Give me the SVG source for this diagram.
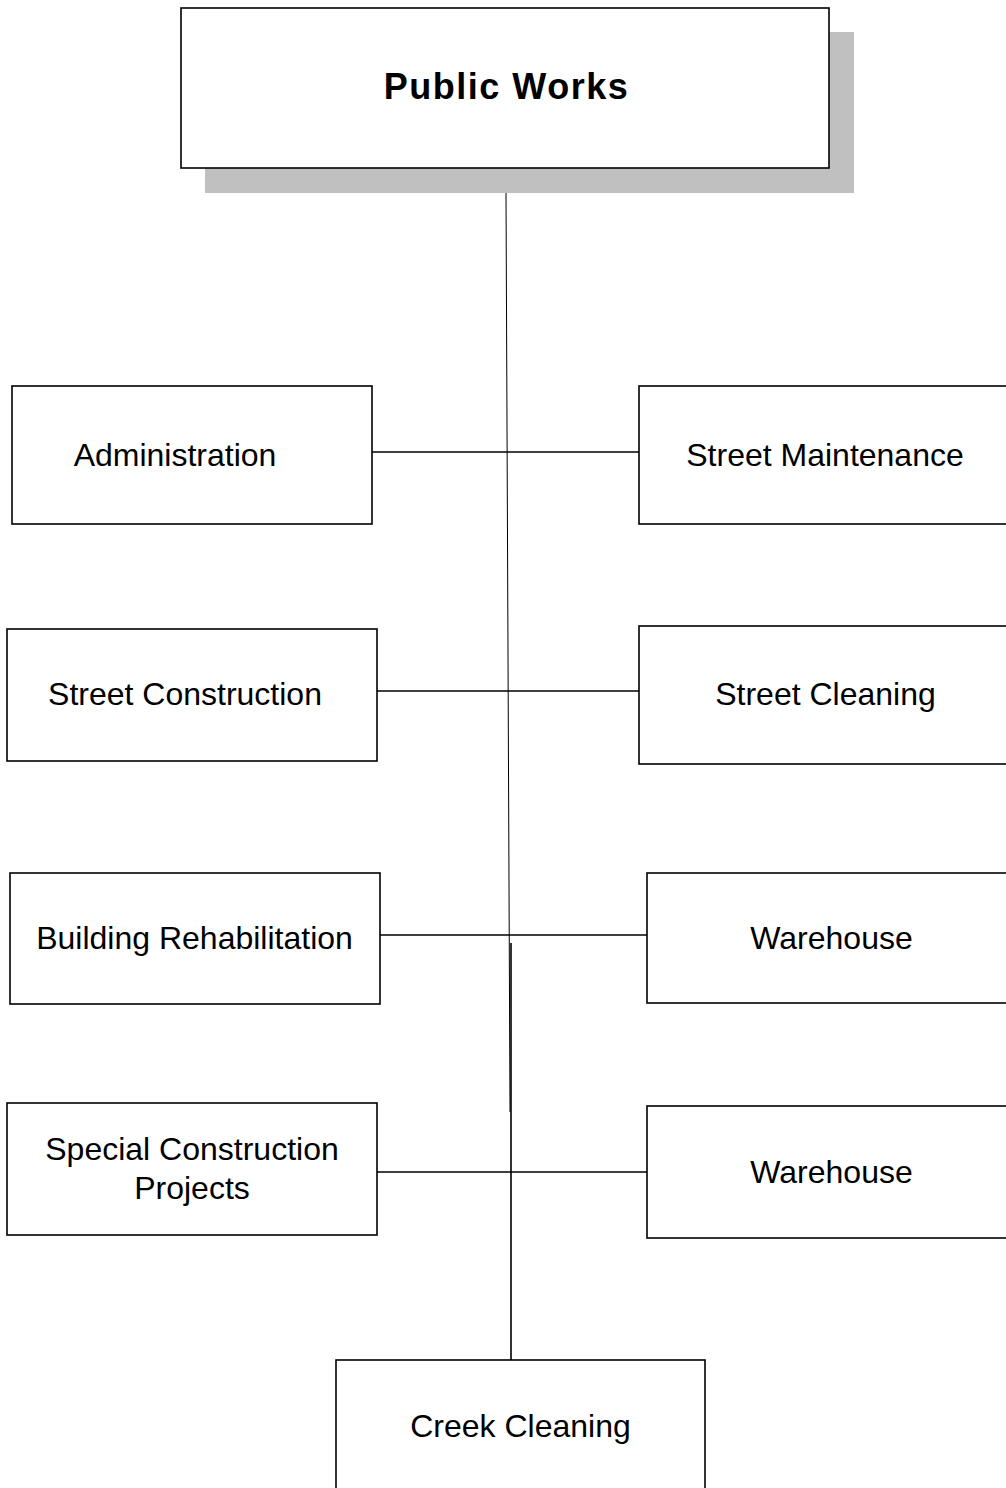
<svg xmlns="http://www.w3.org/2000/svg" width="1006" height="1488" viewBox="0 0 1006 1488">
<style>
.box{fill:#fff;stroke:#000;stroke-width:1.6}
.t{font-family:"Liberation Sans",Arial,sans-serif;font-size:32px;fill:#000;text-anchor:middle}
.h{font-family:"Liberation Sans",Arial,sans-serif;font-size:36px;font-weight:bold;letter-spacing:1.5px;fill:#000;text-anchor:middle}
.c{stroke:#000;stroke-width:1.6;fill:none}
.thin{stroke:#000;stroke-width:1;fill:none}
</style>
<rect width="1006" height="1488" fill="#fff"/>
<g id="connectors">
<line class="thin" x1="506" y1="193" x2="510" y2="1112"/>
<line class="c" x1="511" y1="943" x2="511" y2="1360"/>
<line class="c" x1="372" y1="452" x2="639" y2="452"/>
<line class="c" x1="377" y1="691" x2="645" y2="691"/>
<line class="c" x1="380" y1="935" x2="647" y2="935"/>
<line class="c" x1="377" y1="1172" x2="647" y2="1172"/>
</g>
<g id="public-works">
<rect x="205" y="32" width="649" height="161" fill="#c0c0c0"/>
<rect class="box" x="181" y="8" width="648" height="160"/>
<text class="h" x="506.5" y="99">Public Works</text>
</g>
<g id="administration">
<rect class="box" x="12" y="386" width="360" height="138"/>
<text class="t" x="175" y="466">Administration</text>
</g>
<g id="street-maintenance">
<rect class="box" x="639" y="386" width="380" height="138"/>
<text class="t" x="825" y="466">Street Maintenance</text>
</g>
<g id="street-construction">
<rect class="box" x="7" y="629" width="370" height="132"/>
<text class="t" x="185" y="705">Street Construction</text>
</g>
<g id="street-cleaning">
<rect class="box" x="639" y="626" width="380" height="138"/>
<text class="t" x="825.5" y="705">Street Cleaning</text>
</g>
<g id="building-rehabilitation">
<rect class="box" x="10" y="873" width="370" height="131"/>
<text class="t" x="194.5" y="949">Building Rehabilitation</text>
</g>
<g id="warehouse-1">
<rect class="box" x="647" y="873" width="372" height="130"/>
<text class="t" x="831.5" y="949">Warehouse</text>
</g>
<g id="special-construction-projects">
<rect class="box" x="7" y="1103" width="370" height="132"/>
<text class="t" x="192" y="1160">Special Construction</text>
<text class="t" x="192" y="1199">Projects</text>
</g>
<g id="warehouse-2">
<rect class="box" x="647" y="1106" width="372" height="132"/>
<text class="t" x="831.5" y="1183">Warehouse</text>
</g>
<g id="creek-cleaning">
<rect class="box" x="336" y="1360" width="369" height="140"/>
<text class="t" x="520.5" y="1437">Creek Cleaning</text>
</g>
</svg>
